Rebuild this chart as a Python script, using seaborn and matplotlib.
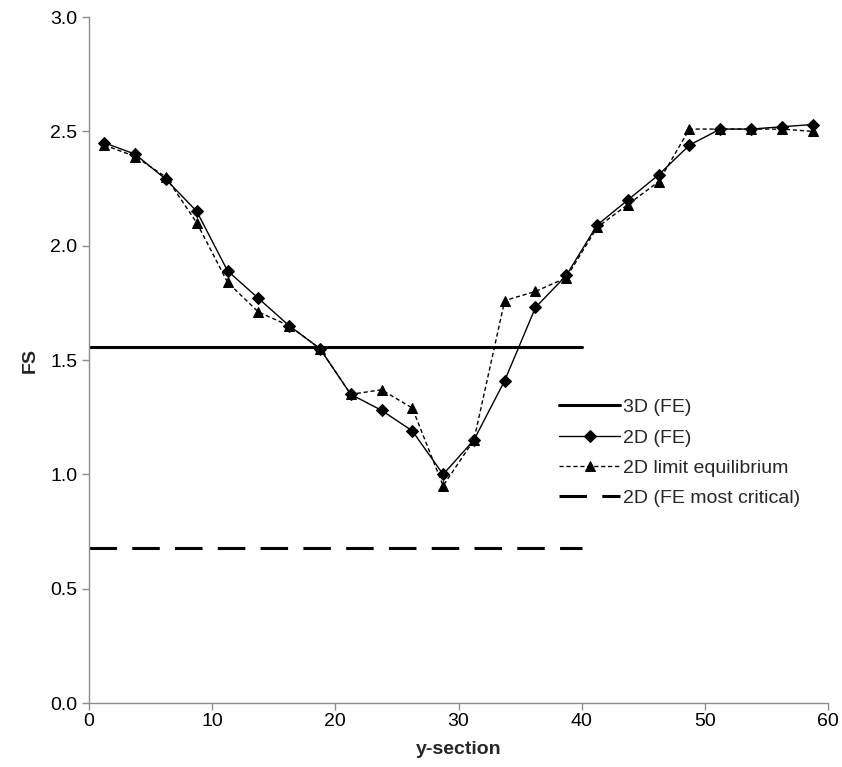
import matplotlib
matplotlib.use("Agg")
import matplotlib.pyplot as plt
import seaborn as sns

# y-section positions of the analysed cross sections
y_section = [1.25, 3.75, 6.25, 8.75, 11.25, 13.75, 16.25, 18.75, 21.25, 23.75, 26.25, 28.75,
             31.25, 33.75, 36.25, 38.75, 41.25, 43.75, 46.25, 48.75, 51.25, 53.75, 56.25, 58.75]

# factor of safety, 2D finite element
fs_2d_fe = [2.45, 2.40, 2.29, 2.15, 1.89, 1.77, 1.65, 1.55, 1.35, 1.28, 1.19, 1.00,
            1.15, 1.41, 1.73, 1.87, 2.09, 2.20, 2.31, 2.44, 2.51, 2.51, 2.52, 2.53]

# factor of safety, 2D limit equilibrium
fs_2d_le = [2.44, 2.39, 2.30, 2.10, 1.84, 1.71, 1.65, 1.55, 1.35, 1.37, 1.29, 0.95,
            1.15, 1.76, 1.80, 1.86, 2.08, 2.18, 2.28, 2.51, 2.51, 2.51, 2.51, 2.50]

# constant reference levels drawn over y-section 0..40
ref_x = [0, 40]
fs_3d_fe = [1.555, 1.555]
fs_2d_crit = [0.68, 0.68]

sns.set_theme(style="white")
plt.rcParams['font.family'] = ['Liberation Sans', 'DejaVu Sans']

fig = plt.figure(figsize=(8.42, 7.67), dpi=100)
ax = fig.add_axes([0.1057, 0.0834, 0.8777, 0.8944])

sns.lineplot(x=ref_x, y=fs_3d_fe, ax=ax, color='black', linewidth=2.2, label='3D (FE)')
sns.lineplot(x=y_section, y=fs_2d_fe, ax=ax, color='black', linewidth=1.0,
             marker='D', markersize=6, markeredgecolor='black', label='2D (FE)')
sns.lineplot(x=y_section, y=fs_2d_le, ax=ax, color='black', linewidth=1.0,
             linestyle=(0, (3, 2)), marker='^', markersize=7, markeredgecolor='black',
             label='2D limit equilibrium')
sns.lineplot(x=ref_x, y=fs_2d_crit, ax=ax, color='black', linewidth=2.2,
             linestyle=(0, (9, 5)), label='2D (FE most critical)')

ax.set_xlim(0, 60)
ax.set_ylim(0, 3.0)
ax.set_xticks(range(0, 61, 10))
ax.set_yticks([0.0, 0.5, 1.0, 1.5, 2.0, 2.5, 3.0])
ax.set_yticklabels([f'{v:.1f}' for v in [0.0, 0.5, 1.0, 1.5, 2.0, 2.5, 3.0]])
ax.set_xlabel('y-section', fontsize=14, fontweight='bold', labelpad=8)
ax.set_ylabel('FS', fontsize=14, fontweight='bold', labelpad=8)

for side in ['top', 'right']:
    ax.spines[side].set_visible(False)
for side in ['left', 'bottom']:
    ax.spines[side].set_color('#8c8c8c')
    ax.spines[side].set_linewidth(1.0)
ax.tick_params(axis='both', which='major', direction='out', length=5, width=1,
               color='#8c8c8c', labelsize=14, labelcolor='black', left=True, bottom=True)
ax.tick_params(axis='x', pad=2)

ax.legend(loc='upper left', bbox_to_anchor=(0.626, 0.455), frameon=False, fontsize=14,
          handlelength=3.1, handletextpad=0.15, labelspacing=0.65, borderaxespad=0)

fig.savefig('out.png', dpi=100)
